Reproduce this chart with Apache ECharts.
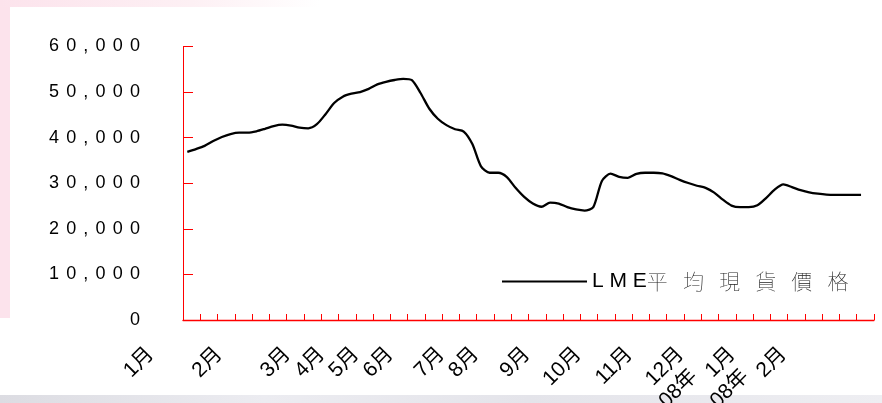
<!DOCTYPE html>
<html>
<head>
<meta charset="utf-8">
<script src="https://cdn.jsdelivr.net/npm/echarts@6/dist/echarts.min.js"></script>
<style>
  html, body { margin: 0; padding: 0; background: #ffffff; }
  #wrap { position: relative; width: 882px; height: 403px; overflow: hidden; background: #fff; }
  .deco { position: absolute; }
  #pinkLeft { left: 0; top: 0; width: 10px; height: 318px; background: #fce3ec; }
  #pinkTop { left: 0; top: 0; width: 320px; height: 7px; background: linear-gradient(to right, #fce3ec, #fdf0f4 60%, #ffffff); }
  #greyBottom { left: 0; top: 395px; width: 882px; height: 8px; background: linear-gradient(to right, #dcdce2, #ececf1 30%, #e4e4ea 60%, #eeeef2); }
  #chart { position: absolute; left: 0; top: 0; width: 882px; height: 403px; }
</style>
</head>
<body>
<div id="wrap">
  <div class="deco" id="pinkLeft"></div>
  <div class="deco" id="pinkTop"></div>
  <div class="deco" id="greyBottom"></div>
  <div id="chart"></div>
</div>
<script>
// ---- data ----
const seriesName = 'LME平均現貨價格';

// month labels along the bottom (one slot per tick step, blanks between)
const tickLabels = [
  '1月', '', '', '',
  '2月', '', '', '',
  '3月', '',
  '4月', '',
  '5月', '',
  '6月', '', '',
  '7月', '',
  '8月', '', '',
  '9月', '', '',
  '10月', '', '',
  '11月', '', '',
  '12月', '', '',
  '1月', '', '',
  '2月'
];
// year prefix shown under the 2008 months (same slots)
const yearLabels = [
  '', '', '', '', '', '', '', '', '', '',
  '', '', '', '', '', '', '', '', '', '',
  '', '', '', '', '', '', '', '', '', '',
  '', '', '', '', '08年', '', '', '08年'
];

// number of tick steps on the category axis
const tickSlots = 40;

// price readings (half-step sampling across the axis)
const priceValues = [
  36900, 37500, 38200, 39250, 40150, 40800, 41100, 41100, 41400, 41950,
  42550, 42850, 42650, 42200, 42050, 42950, 45150, 47600, 49000, 49650,
  50000, 50700, 51700, 52250, 52650, 52900, 52600, 49800, 46400, 44150,
  42750, 41850, 41350, 38600, 33700, 32300, 32300, 31350, 29000, 27000,
  25550, 24850, 25750, 25550, 24750, 24250, 24000, 24750, 30500, 32100,
  31400, 31200, 32050, 32300, 32300, 32150, 31550, 30750, 30050, 29450,
  29000, 27950, 26400, 25100, 24750, 24750, 25150, 26750, 28600, 29750,
  29150, 28500, 28000, 27700, 27500, 27450, 27450, 27450, 27450
];
const sampleSlots = 80;

const yMin = 0, yMax = 60000, yStep = 10000;

// ---- chart ----
const latin = 'Liberation Sans, Arial, Noto Sans CJK TC, sans-serif';
const chart = echarts.init(document.getElementById('chart'), null, { renderer: 'canvas' });

const spaced = s => s.split('').join('\u2009\u2009');

const labelAxisBase = {
  type: 'category',
  boundaryGap: false,
  axisLine: { show: false },
  axisTick: { show: false },
  splitLine: { show: false }
};
const labelStyle = {
  show: true,
  interval: 0,
  rotate: 45,
  fontSize: 21,
  color: '#000',
  fontFamily: latin,
  hideOverlap: false
};

chart.setOption({
  animation: false,
  backgroundColor: 'transparent',
  grid: [
    { left: 183, right: 8, top: 46.5, bottom: 83, containLabel: false, outerBoundsMode: 'none' },
    { left: 150.5, right: 98.8, top: 46.5, bottom: 83, containLabel: false, outerBoundsMode: 'none' },
    { left: 112.5, right: 136.8, top: 46.5, bottom: 83, containLabel: false, outerBoundsMode: 'none' }
  ],
  legend: {
    data: [{ name: seriesName, icon: 'rect' }],
    left: 497,
    top: 266,
    itemWidth: 85,
    itemHeight: 2,
    itemGap: 0,
    selectedMode: false,
    formatter: () => '{a|L M E}{b|平\u2002 均\u2002 現\u2002 貨\u2002 價\u2002 格}',
    textStyle: {
      fontSize: 21,
      fontFamily: latin,
      color: '#000',
      rich: {
        a: { fontSize: 21, fontFamily: latin, color: '#000' },
        b: { fontSize: 21, fontFamily: 'Noto Sans CJK TC, sans-serif', color: '#222', fontWeight: 'lighter' }
      }
    }
  },
  xAxis: [
    {
      // visible frame axis with tick marks
      type: 'category',
      gridIndex: 0,
      data: Array.from({ length: tickSlots }, () => ''),
      boundaryGap: true,
      axisLine: { show: true, lineStyle: { color: '#ff0000', width: 1.3 } },
      axisTick: { show: true, inside: true, length: 6, interval: 0, lineStyle: { color: '#ff0000', width: 1 } },
      axisLabel: { show: false },
      splitLine: { show: false }
    },
    Object.assign({}, labelAxisBase, {
      // month label axis
      gridIndex: 1,
      data: tickLabels,
      axisLabel: Object.assign({}, labelStyle, { margin: 31 })
    }),
    {
      // sampling axis for the price line
      type: 'category',
      gridIndex: 0,
      data: Array.from({ length: sampleSlots }, (_, i) => String(i)),
      boundaryGap: true,
      show: false
    },
    Object.assign({}, labelAxisBase, {
      // year prefix label axis
      gridIndex: 2,
      data: yearLabels,
      axisLabel: Object.assign({}, labelStyle, { margin: 53 })
    })
  ],
  yAxis: [
    {
      type: 'value',
      gridIndex: 0,
      min: yMin,
      max: yMax,
      interval: yStep,
      axisLine: { show: true, lineStyle: { color: '#ff0000', width: 1 } },
      axisTick: { show: true, inside: true, length: 10, lineStyle: { color: '#ff0000', width: 1 } },
      splitLine: { show: false },
      axisLabel: {
        margin: 43,
        fontSize: 18,
        color: '#000',
        fontFamily: latin,
        formatter: v => spaced(Number(v).toLocaleString('en-US'))
      }
    },
    { type: 'value', gridIndex: 1, min: yMin, max: yMax, show: false },
    { type: 'value', gridIndex: 2, min: yMin, max: yMax, show: false }
  ],
  series: [
    {
      name: seriesName,
      type: 'line',
      xAxisIndex: 2,
      yAxisIndex: 0,
      data: priceValues,
      symbol: 'none',
      showSymbol: false,
      smooth: 0.25,
      lineStyle: { color: '#000', width: 2.3 },
      itemStyle: { color: '#000' },
      z: 5
    }
  ]
});
</script>
</body>
</html>
